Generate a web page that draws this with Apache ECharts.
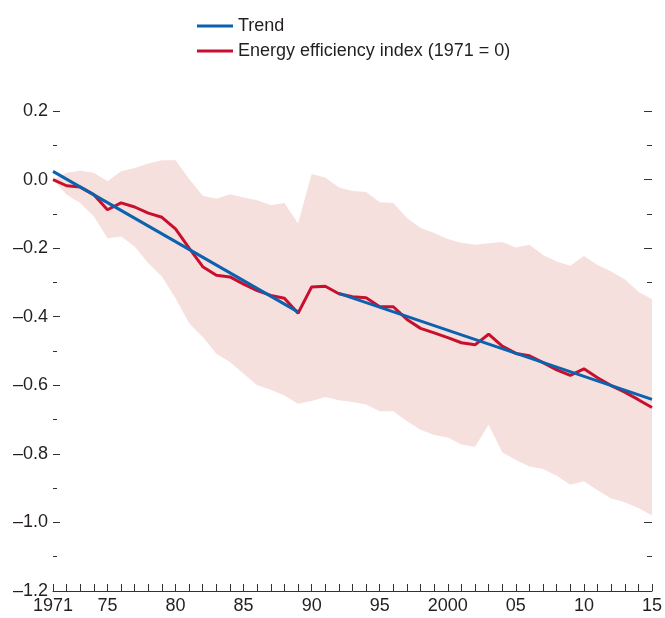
<!DOCTYPE html>
<html>
<head>
<meta charset="utf-8">
<script src="https://cdn.jsdelivr.net/npm/echarts@6/dist/echarts.min.js"></script>
<style>
  html, body { margin: 0; padding: 0; background: #fff; }
  #chart { width: 665px; height: 618px; }
</style>
</head>
<body>
<div id="chart"></div>
<script>
// Years covered by the index
const years = [1971, 1972, 1973, 1974, 1975, 1976, 1977, 1978, 1979, 1980,
  1981, 1982, 1983, 1984, 1985, 1986, 1987, 1988, 1989, 1990,
  1991, 1992, 1993, 1994, 1995, 1996, 1997, 1998, 1999, 2000,
  2001, 2002, 2003, 2004, 2005, 2006, 2007, 2008, 2009, 2010,
  2011, 2012, 2013, 2014, 2015];

// Energy efficiency index (1971 = 0)
const efficiency = [0.000, -0.018, -0.022, -0.044, -0.088, -0.068, -0.080, -0.098, -0.110, -0.144,
  -0.200, -0.254, -0.279, -0.284, -0.305, -0.324, -0.338, -0.346, -0.390, -0.313,
  -0.311, -0.333, -0.342, -0.345, -0.371, -0.371, -0.408, -0.434, -0.447, -0.461,
  -0.476, -0.482, -0.451, -0.486, -0.507, -0.514, -0.534, -0.555, -0.571, -0.552,
  -0.578, -0.601, -0.620, -0.642, -0.665];

// Shaded range: upper and lower bounds
const bandUpper = [0.000, 0.020, 0.026, 0.020, -0.005, 0.024, 0.034, 0.047, 0.056, 0.056,
  0.002, -0.047, -0.056, -0.043, -0.052, -0.060, -0.075, -0.068, -0.128, 0.016,
  0.006, -0.023, -0.033, -0.036, -0.066, -0.068, -0.112, -0.141, -0.156, -0.173,
  -0.184, -0.190, -0.186, -0.182, -0.198, -0.190, -0.220, -0.239, -0.251, -0.223,
  -0.249, -0.268, -0.291, -0.327, -0.349];
const bandLower = [0.000, -0.044, -0.068, -0.107, -0.171, -0.166, -0.195, -0.244, -0.283, -0.346,
  -0.419, -0.459, -0.508, -0.532, -0.566, -0.600, -0.613, -0.630, -0.654, -0.646,
  -0.634, -0.644, -0.649, -0.656, -0.676, -0.676, -0.705, -0.730, -0.745, -0.752,
  -0.773, -0.779, -0.715, -0.795, -0.818, -0.837, -0.844, -0.864, -0.890, -0.880,
  -0.906, -0.930, -0.941, -0.958, -0.980];

// Trend: two fitted segments (endpoints)
const trendSegment1 = [[1971, 0.024], [1989, -0.386]];
const trendSegment2 = [[1992, -0.332], [2015, -0.641]];

// X-axis tick labels
const labelYears = [1971, 1975, 1980, 1985, 1990, 1995, 2000, 2005, 2010, 2015];
const labelTexts = ['1971', '75', '80', '85', '90', '95', '2000', '05', '10', '15'];

const FONT = 'Liberation Sans, Arial, sans-serif';
const TEXT = '#231f20';
const RED = '#c8102e';
const BLUE = '#0b62af';
const BAND = '#f6e0de';

const pairs = (vals) => years.map((y, i) => [y, vals[i]]);
const trendData = trendSegment1.concat([[1990, '-']], trendSegment2);

const chart = echarts.init(document.getElementById('chart'), null, { renderer: 'canvas' });

const yLabel = (v) => {
  const r = Math.round(v * 10) / 10;
  return (r < 0 ? '\u2013' : '') + Math.abs(r).toFixed(1);
};

// Shaded range polygon: upper edge left to right, lower edge back
const renderBand = (params, api) => {
  const pts = [];
  for (let i = 0; i < years.length; i++) pts.push(api.coord([years[i], bandUpper[i]]));
  for (let i = years.length - 1; i >= 0; i--) pts.push(api.coord([years[i], bandLower[i]]));
  return {
    type: 'polygon',
    shape: { points: pts },
    style: { fill: BAND, stroke: null }
  };
};

chart.setOption({
  animation: false,
  backgroundColor: '#fff',
  textStyle: { fontFamily: FONT },
  legend: {
    left: 197,
    top: 17,
    padding: 0,
    orient: 'vertical',
    itemWidth: 36,
    itemHeight: 3,
    itemGap: 7,
    icon: 'rect',
    data: ['Trend', 'Energy efficiency index (1971 = 0)'],
    textStyle: { fontSize: 18, color: TEXT, fontFamily: FONT }
  },
  grid: { left: 53, right: 10, top: 111, bottom: 27, containLabel: false },
  xAxis: {
    type: 'value',
    min: 1971,
    max: 2015,
    interval: 1,
    splitLine: { show: false },
    axisLine: { show: true, onZero: false, lineStyle: { color: '#333', width: 1 } },
    axisTick: { show: true, inside: true, length: 7, lineStyle: { color: '#333', width: 1 } },
    axisLabel: {
      fontSize: 18, color: TEXT, margin: 6, fontFamily: FONT,
      formatter: (v) => {
        const idx = labelYears.indexOf(Math.round(v));
        return idx >= 0 ? labelTexts[idx] : '';
      }
    }
  },
  yAxis: [{
    type: 'value',
    position: 'left',
    min: -1.2,
    max: 0.2,
    interval: 0.2,
    splitLine: { show: false },
    axisLine: { show: false },
    axisTick: { show: true, inside: true, length: 7, lineStyle: { color: '#333', width: 1 } },
    minorTick: { show: true, splitNumber: 2, length: 4, lineStyle: { color: '#333', width: 1 } },
    axisLabel: { fontSize: 18, color: TEXT, margin: 5, fontFamily: FONT, formatter: yLabel }
  }, {
    type: 'value',
    position: 'right',
    min: -1.2,
    max: 0.2,
    interval: 0.2,
    splitLine: { show: false },
    axisLine: { show: false },
    axisTick: { show: true, inside: true, length: 8, lineStyle: { color: '#333', width: 1 } },
    minorTick: { show: true, splitNumber: 2, length: 5, lineStyle: { color: '#333', width: 1 } },
    axisLabel: { show: false }
  }],
  series: [
    {
      name: 'range',
      type: 'custom',
      renderItem: renderBand,
      data: [0],
      silent: true,
      clip: true,
      z: 1
    },
    {
      name: 'Energy efficiency index (1971 = 0)',
      type: 'line',
      data: pairs(efficiency),
      symbol: 'none',
      itemStyle: { color: RED },
      lineStyle: { color: RED, width: 3 },
      z: 3
    },
    {
      name: 'Trend',
      type: 'line',
      data: trendData,
      symbol: 'none',
      connectNulls: false,
      itemStyle: { color: BLUE },
      lineStyle: { color: BLUE, width: 3 },
      z: 4
    }
  ]
});
</script>
</body>
</html>
